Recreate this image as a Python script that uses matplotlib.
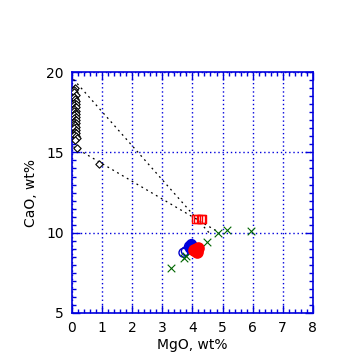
import numpy as np
import matplotlib
matplotlib.use("Agg")
import matplotlib.pyplot as plt
from matplotlib.ticker import MultipleLocator

# black diamonds (near-zero MgO)
dia_mgo = [0.10, 0.06, 0.08, 0.12, 0.06, 0.10, 0.14, 0.08, 0.12, 0.06, 0.10, 0.14,
           0.08, 0.12, 0.06, 0.10, 0.14, 0.08, 0.12, 0.06, 0.10, 0.14, 0.08, 0.12,
           0.06, 0.10, 0.14, 0.08, 0.12, 0.10, 0.14, 0.08, 0.12, 0.16, 0.10, 0.18,
           0.90]
dia_cao = [19.0, 18.9, 18.75, 18.6, 18.45, 18.3, 18.2, 18.1, 18.0, 17.95, 17.85, 17.8,
           17.7, 17.6, 17.55, 17.45, 17.4, 17.3, 17.2, 17.15, 17.05, 17.0, 16.9, 16.85,
           16.75, 16.7, 16.6, 16.5, 16.4, 16.3, 16.2, 16.1, 16.0, 15.9, 15.8, 15.3,
           14.3]

# mixing lines
line1_mgo = [0.05, 4.60]
line1_cao = [19.55, 9.90]
line2_mgo = [0.05, 4.90]
line2_cao = [15.35, 10.00]

# red open squares
sq_mgo = [4.11, 4.19, 4.27, 4.33]
sq_cao = [10.85, 10.85, 10.85, 10.85]

# green crosses
gx_mgo = [3.30, 3.72, 3.78, 4.48, 4.85, 5.15, 5.95]
gx_cao = [7.80, 8.40, 8.55, 9.42, 10.00, 10.17, 10.10]

# blue open circles
bo_mgo = [3.70, 3.78]
bo_cao = [8.75, 8.85]

# blue filled circles
bf_mgo = [3.88, 3.95, 4.00, 3.92]
bf_cao = [9.20, 9.30, 9.15, 9.05]

# red filled circles
rf_mgo = [4.10, 4.20, 4.15, 4.05]
rf_cao = [8.90, 9.05, 8.80, 8.95]

fig = plt.figure(figsize=(3.6, 3.6), dpi=100)
ax = fig.add_axes([0.2, 0.1306, 0.669, 0.669])

ax.plot(line1_mgo, line1_cao, color='black', ls=(0, (1.5, 3)), lw=0.9)
ax.plot(line2_mgo, line2_cao, color='black', ls=(0, (1.5, 3)), lw=0.9)

ax.scatter(dia_mgo, dia_cao, marker='D', s=14, facecolor='white', edgecolor='black', lw=0.8, zorder=3)
ax.scatter(bo_mgo, bo_cao, marker='o', s=40, facecolor='none', edgecolor='#0000cc', lw=1, zorder=3)
ax.scatter(gx_mgo, gx_cao, marker='x', s=30, color='#006600', lw=0.8, zorder=4)
ax.scatter(bf_mgo, bf_cao, marker='o', s=50, color='#0000dd', zorder=4)
ax.scatter(rf_mgo, rf_cao, marker='o', s=65, color='#ff0000', zorder=5)
ax.scatter(sq_mgo, sq_cao, marker='s', s=33, facecolor='none', edgecolor='#ff0000', lw=1.0, zorder=5)

ax.set_xlim(0, 8)
ax.set_ylim(5, 20)
ax.xaxis.set_major_locator(MultipleLocator(1))
ax.xaxis.set_minor_locator(MultipleLocator(0.2))
ax.yaxis.set_major_locator(MultipleLocator(5))
ax.yaxis.set_minor_locator(MultipleLocator(0.5))
ax.grid(True, which='major', color='#0000dd', ls=(0, (1, 2)), lw=1)

for s in ax.spines.values():
    s.set_color('#0000dd')
    s.set_linewidth(1.2)
ax.tick_params(which='both', direction='in', top=True, right=True, color='#0000dd',
               labelsize=10, width=1)
ax.tick_params(which='major', length=6, pad=6)
ax.tick_params(which='minor', length=3)

ax.set_xlabel('MgO, wt%', fontsize=10, labelpad=2)
ax.set_ylabel('CaO, wt%', fontsize=10, labelpad=6)

fig.savefig('out.png', dpi=100)
